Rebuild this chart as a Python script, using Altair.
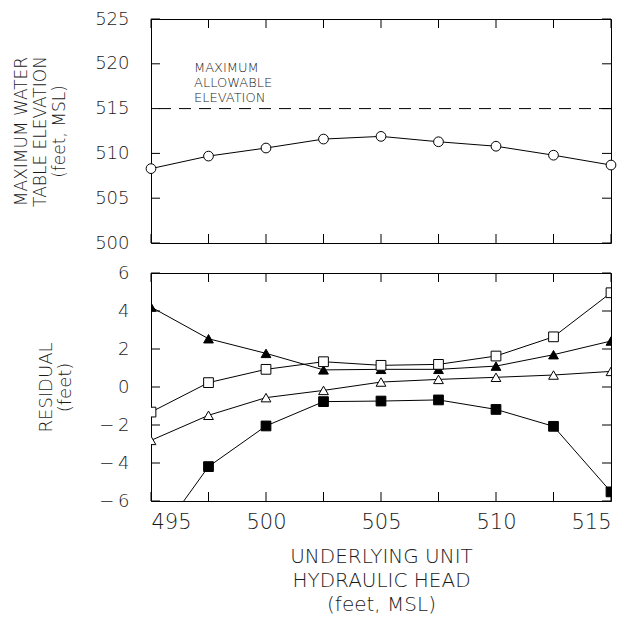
import altair as alt
import pandas as pd

# ---------------- data ----------------
x_head = [495, 497.5, 500, 502.5, 505, 507.5, 510, 512.5, 515]
max_wt = [508.3, 509.7, 510.6, 511.6, 511.9, 511.3, 510.8, 509.8, 508.7]
allow_elev = [515]
allow_text = ["MAXIMUM\nALLOWABLE\nELEVATION"]
allow_text_x = [496.87]
allow_text_y = [519.5]

series_names = ["filled_tri", "open_sq", "open_tri", "filled_sq"]
series_shapes = ["triangle-up", "square", "triangle-up", "square"]
series_fills = ["black", "white", "white", "black"]
res_filled_tri = [4.21, 2.54, 1.77, 0.90, 0.93, 0.93, 1.10, 1.70, 2.42]
res_open_sq = [-1.32, 0.23, 0.93, 1.33, 1.14, 1.19, 1.63, 2.64, 4.96]
res_open_tri = [-2.81, -1.49, -0.56, -0.18, 0.26, 0.40, 0.51, 0.63, 0.82]
res_filled_sq = [-8.4, -4.19, -2.05, -0.77, -0.74, -0.68, -1.18, -2.07, -5.52]

x_ticks = [495, 497.5, 500, 502.5, 505, 507.5, 510, 512.5, 515]
x_labels = [495, 500, 505, 510, 515]
top_y_ticks = [500, 505, 510, 515, 520, 525]
bot_y_ticks = [-6, -4, -2, 0, 2, 4, 6]

# ---------------- layout ----------------
W = 460
H_TOP = 224
H_BOT = 228
TICK = 9
FONT = "DejaVu Sans"
TXT = "#1a1a1a"
WEIGHT = 300

top_df = pd.DataFrame({"x": x_head, "y": max_wt})
res_values = [res_filled_tri, res_open_sq, res_open_tri, res_filled_sq]
res_df = pd.DataFrame(
    [
        {"x": xv, "y": yv, "series": s, "order": i}
        for s, vals in zip(series_names, res_values)
        for i, (xv, yv) in enumerate(zip(x_head, vals))
    ]
)

x_scale = alt.Scale(domain=[495, 515], nice=False, zero=False)
top_y_scale = alt.Scale(domain=[500, 525], nice=False, zero=False)
bot_y_scale = alt.Scale(domain=[-6, 6], nice=False, zero=False)

common = dict(
    ticks=False, domain=False, grid=False,
    labelFont=FONT, titleFont=FONT, labelColor=TXT, titleColor=TXT,
    labelFontWeight=WEIGHT, titleFontWeight=WEIGHT,
)

top_y_axis = alt.Axis(
    values=top_y_ticks,
    labelFontSize=18,
    labelPadding=22,
    title=["MAXIMUM WATER", "TABLE ELEVATION", "(feet, MSL)"],
    titleFontSize=17,
    titleLineHeight=19,
    titleAngle=270,
    titleBaseline="middle",
    titleAlign="center",
    titleX=-130,
    titleY=H_TOP / 2,
    **common,
)
bot_x_axis = alt.Axis(
    values=x_labels,
    labelFontSize=21,
    labelPadding=10,
    title=["UNDERLYING UNIT", "HYDRAULIC HEAD", "(feet, MSL)"],
    titleFontSize=20,
    titleLineHeight=24,
    titlePadding=14,
    **common,
)
bot_y_axis = alt.Axis(
    values=bot_y_ticks,
    labelFontSize=18,
    labelPadding=22,
    labelExpr="datum.value < 0 ? '\u2212\u2009' + abs(datum.value) : datum.label",
    title=["RESIDUAL", "(feet)"],
    titleFontSize=18,
    titleLineHeight=19,
    titleAngle=270,
    titleBaseline="middle",
    titleAlign="center",
    titleX=-105,
    titleY=H_BOT / 2,
    **common,
)

xt_df = pd.DataFrame({"t": x_ticks})
ty_df = pd.DataFrame({"t": top_y_ticks})
by_df = pd.DataFrame({"t": bot_y_ticks})


def inward_ticks(ydf, yscale, yaxis, xaxis, h):
    xs = alt.X("t:Q", scale=x_scale, axis=xaxis)
    ys = alt.Y("t:Q", scale=yscale, axis=yaxis)
    top_t = alt.Chart(xt_df).mark_rule(color="black", strokeWidth=1).encode(
        x=xs, y=alt.value(0), y2=alt.value(TICK))
    bot_t = alt.Chart(xt_df).mark_rule(color="black", strokeWidth=1).encode(
        x=xs, y=alt.value(h), y2=alt.value(h - TICK))
    left_t = alt.Chart(ydf).mark_rule(color="black", strokeWidth=1).encode(
        y=ys, x=alt.value(0), x2=alt.value(TICK))
    right_t = alt.Chart(ydf).mark_rule(color="black", strokeWidth=1).encode(
        y=ys, x=alt.value(W), x2=alt.value(W - TICK))
    return [top_t, bot_t, left_t, right_t]


# ---------------- top panel ----------------
top_x = alt.X("x:Q", scale=x_scale, axis=None)
top_y = alt.Y("y:Q", scale=top_y_scale, axis=top_y_axis)

top_line = alt.Chart(top_df).mark_line(color="black", strokeWidth=1).encode(x=top_x, y=top_y)
top_pts = alt.Chart(top_df).mark_point(
    shape="circle", size=95, filled=True, fill="white", stroke="black", strokeWidth=1, opacity=1
).encode(x=top_x, y=top_y)

dash = alt.Chart(pd.DataFrame({"y": allow_elev})).mark_rule(
    color="black", strokeWidth=1, strokeDash=[12, 8]
).encode(y=top_y)

ann = alt.Chart(
    pd.DataFrame({"x": allow_text_x, "y": allow_text_y, "t": allow_text})
).mark_text(
    align="left", baseline="middle", fontSize=13, lineHeight=15, lineBreak="\n",
    font=FONT, fontWeight=WEIGHT, color=TXT
).encode(x=top_x, y=top_y, text="t:N")

top = alt.layer(
    top_line, dash, ann, top_pts, *inward_ticks(ty_df, top_y_scale, top_y_axis, None, H_TOP)
).properties(width=W, height=H_TOP)

# ---------------- bottom panel ----------------
bot_x = alt.X("x:Q", scale=x_scale, axis=bot_x_axis)
bot_y = alt.Y("y:Q", scale=bot_y_scale, axis=bot_y_axis)

res_lines = alt.Chart(res_df).mark_line(color="black", strokeWidth=1, clip=True).encode(
    x=bot_x, y=bot_y, detail="series:N", order="order:Q"
)
res_pts = alt.Chart(res_df).mark_point(
    size=95, filled=True, stroke="black", strokeWidth=1, opacity=1, clip=True
).encode(
    x=bot_x,
    y=bot_y,
    shape=alt.Shape("series:N", scale=alt.Scale(domain=series_names, range=series_shapes), legend=None),
    fill=alt.Fill("series:N", scale=alt.Scale(domain=series_names, range=series_fills), legend=None),
)

bottom = alt.layer(
    res_lines, res_pts, *inward_ticks(by_df, bot_y_scale, bot_y_axis, bot_x_axis, H_BOT)
).properties(width=W, height=H_BOT)

chart = alt.vconcat(top, bottom, spacing=30, bounds="flush").properties(
    padding={"left": 3, "top": 1, "right": 5, "bottom": 0},
    background="white",
).configure_view(
    stroke="black", strokeWidth=1
)

chart.save("out.html", embed_options={"renderer": "svg", "actions": False})
